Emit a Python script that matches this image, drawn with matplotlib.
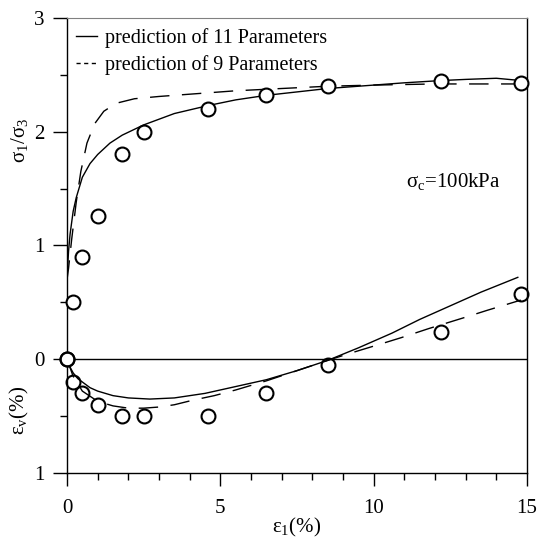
import matplotlib
matplotlib.use("Agg")
import matplotlib.pyplot as plt
from matplotlib.lines import Line2D
from matplotlib.ticker import MultipleLocator

plt.rcParams['font.family'] = ['Liberation Serif', 'DejaVu Serif']
plt.rcParams['mathtext.fontset'] = 'custom'
plt.rcParams['mathtext.rm'] = 'Liberation Serif'
plt.rcParams['mathtext.it'] = 'Liberation Serif:italic'

# test data: stress ratio and volumetric strain vs axial strain
test_eps1 = [0, 0.2, 0.5, 1.0, 1.8, 2.5, 4.6, 6.5, 8.5, 12.2, 14.8]
test_ratio = [0, 0.5, 0.9, 1.26, 1.8, 2.0, 2.2, 2.32, 2.4, 2.45, 2.43]
test_epsv = [0, -0.2, -0.3, -0.4, -0.5, -0.5, -0.5, -0.3, -0.05, 0.24, 0.57]

# prediction, 11 parameters
p11_x = [0, 0.05, 0.1, 0.2, 0.3, 0.5, 0.75, 1.0, 1.4, 1.8, 2.5, 3.5, 4.6, 5.5,
         6.5, 7.5, 8.5, 10, 11, 12.2, 13, 14, 14.8]
p11_ratio = [0.72, 0.95, 1.1, 1.3, 1.42, 1.6, 1.72, 1.8, 1.9, 1.97, 2.06, 2.16,
             2.23, 2.28, 2.32, 2.35, 2.38, 2.41, 2.43, 2.45, 2.46, 2.47, 2.45]
p11_vx = [0, 0.1, 0.2, 0.35, 0.5, 0.75, 1.0, 1.5, 2.0, 2.7, 3.5, 4.5, 5.5, 6.5,
          7.5, 8.5, 9.5, 10.6, 11.5, 12.5, 13.5, 14.7]
p11_epsv = [0, -0.07, -0.12, -0.17, -0.2, -0.25, -0.28, -0.32, -0.34, -0.35,
            -0.34, -0.3, -0.24, -0.18, -0.1, -0.01, 0.1, 0.23, 0.35, 0.47, 0.59, 0.72]

# prediction, 9 parameters
p9_x = [0, 0.05, 0.15, 0.3, 0.45, 0.65, 0.9, 1.2, 1.6, 2.2, 3.0, 4.0, 5.5, 7.0,
        8.5, 10, 12, 14.8]
p9_ratio = [0.7, 0.8, 1.05, 1.38, 1.65, 1.9, 2.07, 2.18, 2.25, 2.29, 2.31, 2.33,
            2.36, 2.38, 2.40, 2.41, 2.42, 2.42]
p9_vx = [0, 0.2, 0.5, 1.0, 1.5, 2.0, 2.5, 3.0, 3.5, 4.1, 4.8, 5.5, 6.5, 7.5, 8.5,
         9.2, 10.3, 10.9, 11.8, 13.0, 13.7, 14.8]
p9_epsv = [0, -0.15, -0.28, -0.37, -0.41, -0.43, -0.43, -0.42, -0.40, -0.36, -0.32,
           -0.27, -0.19, -0.1, -0.01, 0.05, 0.14, 0.19, 0.27, 0.37, 0.43, 0.52]

ytick_vals = [3, 2, 1, 0, -1]
ytick_labels = ['3', '2', '1', '0', '1']

fig = plt.figure(figsize=(5.37, 5.43), dpi=100)
ax = fig.add_axes([0.1248, 0.1289, 0.8566, 0.838])

dash = (14, 9)
ax.axhline(0, color='black', lw=1.0)
ax.plot(p11_x, p11_ratio, color='black', lw=1.0)
ax.plot(p11_vx, p11_epsv, color='black', lw=1.0)
ax.plot(p9_x, p9_ratio, color='black', lw=1.0, dashes=dash)
ax.plot(p9_vx, p9_epsv, color='black', lw=1.0, dashes=dash)
ax.plot(test_eps1, test_ratio, 'o', ms=10, mfc='white', mec='black', mew=1.5,
        clip_on=False, zorder=5)
ax.plot(test_eps1, test_epsv, 'o', ms=10, mfc='none', mec='black', mew=1.5,
        clip_on=False, zorder=5)

ax.set_xlim(0, 15)
ax.set_ylim(-1, 3)
ax.xaxis.set_major_locator(MultipleLocator(5))
ax.xaxis.set_minor_locator(MultipleLocator(1))
ax.set_yticks(ytick_vals)
ax.set_yticklabels(ytick_labels)
ax.yaxis.set_minor_locator(MultipleLocator(0.5))
ax.tick_params(axis='both', which='major', labelsize=15, width=1.0, direction='out')
ax.tick_params(axis='y', which='major', length=10, pad=6)
ax.tick_params(axis='y', which='minor', length=5, width=1.0)
ax.tick_params(axis='x', which='major', length=9, pad=10)
ax.tick_params(axis='x', which='minor', length=5, width=1.0)
ax.spines['top'].set_color('#808080')
for s in ['left', 'right', 'bottom']:
    ax.spines[s].set_linewidth(1.0)

ax.text(11.05, 1.56, 'σ$_\\mathrm{c}$=100kPa', fontsize=15, va='center')

fig.text(0.036, (543 - 140) / 543, 'σ$_\\mathrm{1}$/σ$_\\mathrm{3}$', rotation=90,
         fontsize=15, ha='center', va='center')
fig.text(0.036, (543 - 410) / 543, 'ε$_\\mathrm{v}$(%)', rotation=90,
         fontsize=15, ha='center', va='center')
fig.text(297 / 537, (543 - 527) / 543, 'ε$_\\mathrm{1}$(%)', fontsize=15,
         ha='center', va='center')

handles = [Line2D([], [], color='black', lw=1.0),
           Line2D([], [], color='black', lw=1.0, dashes=(3, 2.5))]
ax.legend(handles, ['prediction of 11 Parameters', 'prediction of 9 Parameters'],
          loc='upper left', frameon=False, fontsize=14.5, handlelength=1.0,
          handletextpad=0.4, labelspacing=0.35, borderaxespad=0.0,
          bbox_to_anchor=(0.003, 0.995))

fig.savefig('out.png', dpi=100)
